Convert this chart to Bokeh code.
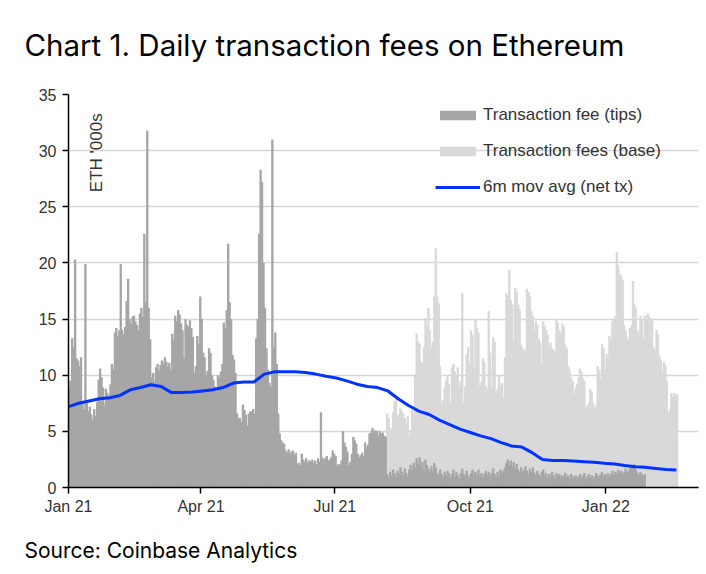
import numpy as np
import pandas as pd
from bokeh.plotting import figure
from bokeh.models import ColumnDataSource, FixedTicker, Label, Legend, LegendItem, Range1d, Title
from bokeh.transform import stack
from bokeh.embed import file_html
from bokeh.resources import INLINE

# ---------------- data ----------------
start_date = "2021-01-01"
x_tick_dates = ["2021-01-01", "2021-04-01", "2021-07-01", "2021-10-01", "2022-01-01"]
x_tick_labels = ["Jan 21", "Apr 21", "Jul 21", "Oct 21", "Jan 22"]
y_ticks = [0, 5, 10, 15, 20, 25, 30, 35]
series_names = ["Transaction fee (tips)", "Transaction fees (base)", "6m mov avg (net tx)"]

# daily fees ('000 ETH) before EIP-1559 (1 Jan - 4 Aug 2021): all counted as tips
tips_pre = [
    9.0, 9.5, 13.3, 12.5, 20.3, 11.5, 11.3, 10.8, 11.6, 7.5,
    7.0, 19.9, 7.5, 6.8, 7.2, 6.5, 6.0, 7.0, 6.4, 7.6,
    9.6, 10.6, 9.8, 8.9, 7.4, 8.8, 8.4, 8.0, 9.2, 11.0,
    10.5, 13.8, 14.2, 13.5, 14.0, 19.9, 14.0, 13.6, 14.3, 16.6,
    18.6, 15.0, 14.6, 15.2, 15.3, 14.8, 14.5, 14.0, 15.5, 16.0,
    15.2, 22.6, 16.5, 31.8, 16.0, 13.2, 9.8, 10.2, 9.5, 10.7,
    11.0, 10.4, 10.9, 11.3, 11.0, 11.6, 11.2, 10.8, 11.1, 10.5,
    13.7, 13.2, 15.3, 14.8, 15.8, 15.4, 14.6, 14.0, 11.5, 15.0,
    14.5, 14.3, 14.9, 14.2, 13.4, 10.2, 10.8, 13.5, 12.8, 17.0,
    15.0, 12.0, 11.6, 10.0, 10.4, 12.4, 12.0, 10.0, 9.6, 9.0,
    8.6, 10.0, 9.8, 10.3, 11.0, 14.7, 14.2, 15.8, 21.7, 16.5,
    15.0, 11.8, 11.4, 10.2, 6.6, 6.2, 6.2, 5.8, 7.4, 6.9,
    6.5, 5.5, 6.6, 6.8, 6.8, 7.0, 6.6, 13.3, 15.0, 22.6,
    28.3, 27.2, 20.0, 16.0, 12.4, 10.5, 9.3, 9.0, 31.0, 12.5,
    13.8, 11.0, 6.6, 4.8, 4.2, 4.0, 3.9, 3.3, 3.1, 3.4,
    3.0, 3.2, 3.3, 2.9, 3.1, 2.1, 2.2, 2.0, 3.0, 2.5,
    2.3, 2.6, 2.2, 2.4, 2.3, 2.5, 2.2, 2.4, 2.1, 2.6,
    2.3, 6.7, 2.7, 2.5, 2.6, 2.8, 2.4, 2.5, 2.7, 3.3,
    3.0, 2.8, 1.9, 2.1, 2.0, 2.4, 5.0, 4.0, 3.6, 3.2,
    2.0, 2.3, 3.0, 4.5, 4.2, 3.9, 3.0, 2.7, 2.9, 3.1,
    2.8, 4.0, 3.6, 3.8, 4.8, 4.9, 5.3, 5.0, 5.1, 5.0,
    4.6, 5.0, 4.8, 4.9, 4.6, 4.5,
]

# tips after EIP-1559 (5 Aug 2021 onwards)
tips_post = [
    1.2, 0.9, 1.4, 1.1, 1.6, 1.3, 1.0, 1.5, 1.2, 1.8,
    1.4, 1.1, 1.7, 1.3, 1.0, 1.6, 2.0, 1.5, 2.2, 1.8,
    2.6, 2.1, 2.7, 1.9, 2.3, 1.6, 2.5, 2.0, 1.7, 1.4,
    1.9, 1.5, 2.2, 1.8, 1.3, 1.1, 1.6, 1.2, 0.9, 1.4,
    1.1, 1.5, 1.3, 0.9, 1.2, 1.6, 1.0, 1.4, 1.1, 0.8,
    1.3, 1.7, 1.2, 1.0, 1.5, 1.1, 0.9, 1.3, 1.6, 1.2,
    1.4, 1.1, 1.6, 1.0, 1.3, 0.9, 1.2, 1.5, 1.1, 1.4,
    1.0, 1.3, 1.7, 1.2, 0.9, 1.4, 1.1, 1.6, 1.3, 1.5,
    1.8, 2.2, 2.5, 2.0, 2.4, 1.9, 2.3, 1.7, 2.1, 1.6,
    1.4, 1.8, 1.3, 1.6, 1.9, 1.5, 1.2, 1.7, 1.4, 1.8,
    1.3, 1.1, 1.5, 1.2, 1.0, 1.4, 1.6, 1.1, 1.3, 0.9,
    1.2, 1.0, 1.4, 1.1, 0.8, 1.3, 1.0, 1.2, 0.9, 1.1,
    1.0, 1.3, 0.9, 1.1, 0.8, 1.2, 1.0, 0.9, 1.1, 0.8,
    1.0, 1.2, 0.9, 1.1, 1.3, 0.8, 1.0, 1.2, 0.9, 1.1,
    0.8, 1.0, 1.3, 1.1, 0.9, 1.2, 1.4, 1.0, 1.2, 1.1,
    1.3, 1.0, 1.2, 1.5, 1.1, 1.4, 1.2, 1.6, 1.3, 1.5,
    1.2, 1.4, 1.7, 1.3, 1.5, 1.8, 2.0, 1.9, 2.1, 1.6,
    1.3, 1.1, 1.4, 1.2, 1.0, 1.2,
]
# no tips data for the last weeks
tips_end = [
    0.0, 0.0, 0.0, 0.0, 0.0, 0.0, 0.0, 0.0, 0.0, 0.0, 0.0,
    0.0, 0.0, 0.0, 0.0, 0.0, 0.0, 0.0, 0.0, 0.0, 0.0, 0.0,
]

# base fee: none before EIP-1559
base_pre = [0.0] * len(tips_pre)
base_post = [
    5.4, 5.3, 3.6, 4.2, 5.1, 6.4, 7.0, 4.9, 5.4, 5.3,
    5.4, 5.5, 4.5, 4.4, 5.4, 2.9, 3.1, 5.4, 4.3, 8.2,
    11.1, 10.9, 10.1, 9.3, 8.7, 10.9, 12.6, 12.4, 14.3, 12.6,
    10.6, 11.5, 14.8, 19.5, 15.7, 15.3, 9.2, 6.2, 6.9, 7.5,
    8.4, 8.5, 7.9, 6.6, 9.5, 9.4, 9.3, 8.6, 9.6, 8.2,
    8.2, 15.6, 6.4, 8.0, 10.4, 11.4, 10.1, 12.7, 12.0, 9.5,
    13.6, 13.1, 12.2, 8.0, 8.1, 10.6, 10.0, 7.5, 7.6, 14.3,
    11.0, 7.7, 11.7, 11.8, 7.5, 7.4, 8.9, 7.4, 8.0, 6.5,
    9.8, 15.1, 14.5, 17.4, 14.3, 14.4, 10.7, 16.1, 15.3, 14.7,
    14.5, 10.9, 11.1, 10.4, 10.4, 16.2, 16.2, 15.3, 14.3, 13.5,
    12.7, 13.7, 13.0, 12.0, 11.9, 9.6, 13.2, 13.3, 12.7, 12.7,
    11.4, 11.9, 11.0, 11.2, 11.2, 13.7, 13.7, 12.8, 12.8, 13.5,
    13.3, 11.4, 11.5, 9.7, 9.7, 8.6, 8.5, 7.4, 7.8, 8.4,
    8.8, 9.4, 9.4, 8.7, 8.2, 6.2, 6.3, 6.3, 7.9, 7.4,
    6.7, 6.0, 6.0, 9.7, 9.6, 8.5, 11.4, 11.4, 9.3, 10.8,
    10.3, 12.5, 12.0, 13.3, 13.9, 13.9, 19.8, 18.2, 17.7, 17.4,
    17.3, 13.1, 12.3, 12.1, 11.6, 12.4, 12.5, 16.5, 14.2, 14.4,
    12.7, 12.6, 13.9, 13.8, 12.2, 14.1,
    15.0, 15.5, 15.2, 14.9, 15.0, 12.5, 12.2, 14.0, 13.7, 11.7, 11.4,
    10.2, 11.2, 10.9, 9.5, 6.6, 6.9, 8.4, 8.1, 8.4, 8.0, 8.3,
]

# 6-month moving average of net transaction fees, read weekly
ma_values = [
    7.2, 7.5, 7.7, 7.9, 8.0, 8.2, 8.7, 8.9, 9.15, 9.0,
    8.45, 8.45, 8.5, 8.6, 8.7, 8.9, 9.3, 9.4, 9.4, 10.1,
    10.3, 10.3, 10.3, 10.25, 10.1, 9.9, 9.75, 9.5, 9.2, 9.0,
    8.9, 8.6, 7.9, 7.3, 6.8, 6.5, 6.0, 5.6, 5.2, 4.9,
    4.6, 4.35, 4.0, 3.7, 3.6, 3.1, 2.5, 2.4, 2.4, 2.35,
    2.3, 2.25, 2.15, 2.1, 1.95, 1.85, 1.8, 1.7, 1.6, 1.55,
]

# ---------------- build ----------------
tips = tips_pre + tips_post + tips_end
base = base_pre + base_post
dates = pd.date_range(start_date, periods=len(tips), freq="D")
bar_src = ColumnDataSource(dict(x=dates + pd.Timedelta(hours=12), tips=tips, base=base))
ma_dates = pd.date_range(start_date, periods=len(ma_values), freq="7D")
ma_src = ColumnDataSource(dict(x=ma_dates, y=ma_values))

DARK = "#a6a6a6"
LIGHT = "#d9d9d9"
BLUE = "#0033ff"
TXT = "#333333"

t0 = pd.Timestamp(start_date)
p = figure(
    width=700, height=570, title=None,
    x_axis_type="datetime",
    x_range=Range1d(t0, t0 + pd.Timedelta(days=428)),
    y_range=Range1d(0, 35),
    output_backend="svg", toolbar_location=None,
    min_border_left=68, min_border_right=2, min_border_top=94, min_border_bottom=83,
)
p.outline_line_color = None
p.background_fill_color = "white"
p.border_fill_color = "white"

day_ms = 24 * 3600 * 1000
# base drawn first (stacked above tips), tips drawn on top
base_r = p.vbar(x="x", bottom=stack("tips"), top=stack("tips", "base"), width=day_ms * 1.6,
                source=bar_src, fill_color=LIGHT, line_color=None)
tips_r = p.vbar(x="x", bottom=0, top="tips", width=day_ms * 1.6,
                source=bar_src, fill_color=DARK, line_color=None)
ma_line = p.line("x", "y", source=ma_src, line_color=BLUE, line_width=3)

# axes
tick_ms = [int(pd.Timestamp(d).value // 10**6) for d in x_tick_dates]
p.xaxis.ticker = FixedTicker(ticks=tick_ms)
p.xaxis.major_label_overrides = {t: lab for t, lab in zip(tick_ms, x_tick_labels)}
p.yaxis.ticker = FixedTicker(ticks=y_ticks)
for ax in (p.xaxis[0], p.yaxis[0]):
    ax.axis_line_color = "black"
    ax.axis_line_width = 1.5
    ax.major_tick_line_color = "black"
    ax.major_tick_line_width = 1.5
    ax.major_tick_in = 0
    ax.major_tick_out = 6
    ax.minor_tick_line_color = None
    ax.major_label_text_font = "Liberation Sans"
    ax.major_label_text_font_size = "16px"
    ax.major_label_text_color = TXT
p.xaxis.major_label_standoff = 4
p.yaxis.major_label_standoff = 6

p.xgrid.visible = False
p.ygrid.ticker = FixedTicker(ticks=y_ticks)
p.ygrid.grid_line_color = "#d6d6d6"
p.ygrid.grid_line_width = 1.5

# legend
legend = Legend(
    items=[LegendItem(label=series_names[0], renderers=[tips_r]),
           LegendItem(label=series_names[1], renderers=[base_r]),
           LegendItem(label=series_names[2], renderers=[ma_line])],
    location=(367, 290),
    glyph_width=45, glyph_height=12, label_height=20, spacing=16,
    padding=0, margin=0, label_standoff=3,
    background_fill_alpha=0, border_line_alpha=0,
    label_text_font="Liberation Sans", label_text_font_size="17px", label_text_color=TXT,
)
p.add_layout(legend)

# in-plot unit label
p.add_layout(Label(x=t0 + pd.Timedelta(days=19), y=26.3, text="ETH '000s", angle=np.pi / 2,
                   text_align="left", text_baseline="middle",
                   text_font="Liberation Sans", text_font_size="17px", text_color=TXT))

# title (with a thin spacer between it and the plot area)
p.add_layout(Title(text=" ", text_font_size="2px", standoff=28), "above")
p.add_layout(Title(text="Chart 1. Daily transaction fees on Ethereum", align="left",
                   offset=-44, standoff=0,
                   text_font="Inter", text_font_size="29.5px", text_font_style="normal",
                   text_color="black"), "above")
# source note below the axis
p.add_layout(Title(text=" ", text_font_size="2px", standoff=14), "below")
p.add_layout(Title(text="Source: Coinbase Analytics", align="left",
                   offset=-44, standoff=0,
                   text_font="Inter", text_font_size="21px", text_font_style="normal",
                   text_color="black"), "below")

open("out.html", "w").write(file_html(p, INLINE))
